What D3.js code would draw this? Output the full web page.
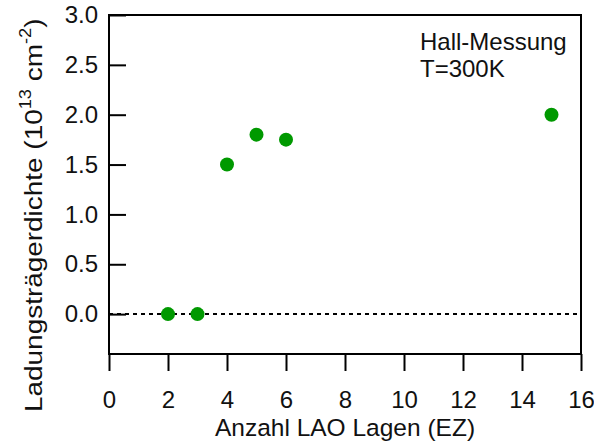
<!DOCTYPE html>
<html>
<head>
<meta charset="utf-8">
<script src="https://cdn.jsdelivr.net/npm/d3@7"></script>
<style>
  body { margin: 0; background: #fff; }
  text { font-family: "Liberation Sans", Arial, sans-serif; fill: #111; }
</style>
</head>
<body>
<svg id="chart" width="594" height="441"></svg>
<script>
// Hall measurement: carrier density vs. number of LAO unit cells
const layers = [2, 3, 4, 5, 6, 15];
const density = [0.0, 0.0, 1.5, 1.8, 1.75, 2.0];
const xTicks = [0, 2, 4, 6, 8, 10, 12, 14, 16];
const yTicks = [0.0, 0.5, 1.0, 1.5, 2.0, 2.5, 3.0];
const legendLines = ["Hall-Messung", "T=300K"];

const svg = d3.select("#chart");
const plotLeft = 109, plotRight = 581, plotTop = 15, plotBottom = 354;
const fontSize = 24;

const x = d3.scaleLinear().domain([0, 16]).range([plotLeft, plotRight]);
const y = d3.scaleLinear().domain([-0.4, 3.0]).range([plotBottom, plotTop]);

// frame
svg.append("rect")
  .attr("x", plotLeft).attr("y", plotTop)
  .attr("width", plotRight - plotLeft).attr("height", plotBottom - plotTop)
  .attr("fill", "none").attr("stroke", "#000").attr("stroke-width", 2);

// zero reference line
svg.append("line")
  .attr("x1", plotLeft).attr("x2", plotRight)
  .attr("y1", y(0)).attr("y2", y(0))
  .attr("stroke", "#000").attr("stroke-width", 2)
  .attr("stroke-dasharray", "4,4");

// bottom axis: ticks point outward
const xAxis = svg.append("g")
  .attr("transform", `translate(0,${plotBottom})`)
  .call(d3.axisBottom(x).tickValues(xTicks).tickFormat(d3.format("d"))
    .tickSizeInner(17).tickSizeOuter(0).tickPadding(20));
xAxis.select(".domain").remove();
xAxis.selectAll(".tick line").attr("stroke", "#000").attr("stroke-width", 2);
xAxis.selectAll(".tick text").attr("font-size", fontSize).attr("fill", "#111")
  .attr("font-family", "Liberation Sans, Arial, sans-serif");

// left axis: ticks point inward
const yAxis = svg.append("g")
  .attr("transform", `translate(${plotLeft},0)`)
  .call(d3.axisLeft(y).tickValues(yTicks).tickFormat(d3.format(".1f"))
    .tickSizeInner(-17).tickSizeOuter(0));
yAxis.select(".domain").remove();
yAxis.selectAll(".tick line").attr("stroke", "#000").attr("stroke-width", 2);
yAxis.selectAll(".tick text").attr("font-size", fontSize).attr("fill", "#111")
  .attr("font-family", "Liberation Sans, Arial, sans-serif")
  .attr("x", -11);

// data points
svg.append("g").selectAll("circle")
  .data(layers.map((l, i) => [l, density[i]]))
  .join("circle")
  .attr("cx", d => x(d[0]))
  .attr("cy", d => y(d[1]))
  .attr("r", 7)
  .attr("fill", "#009900");

// x axis title
svg.append("text")
  .attr("x", 345).attr("y", 436)
  .attr("text-anchor", "middle").attr("font-size", 24.5)
  .text("Anzahl LAO Lagen (EZ)");

// y axis title with superscripts (slightly widened along its run)
const yt = svg.append("text")
  .attr("transform", "translate(42,412) rotate(-90) scale(1.14,1)")
  .attr("text-anchor", "start").attr("font-size", 24.5);
yt.append("tspan").text("Ladungsträgerdichte (10");
yt.append("tspan").attr("font-size", 16).attr("dy", -11).text("13");
yt.append("tspan").attr("dy", 11).text(" cm");
yt.append("tspan").attr("font-size", 16).attr("dy", -11).text("-2");
yt.append("tspan").attr("dy", 11).text(")");

// annotation
svg.append("g").selectAll("text")
  .data(legendLines)
  .join("text")
  .attr("x", 420)
  .attr("y", (d, i) => 50 + i * 27)
  .attr("font-size", fontSize)
  .text(d => d);
</script>
</body>
</html>
